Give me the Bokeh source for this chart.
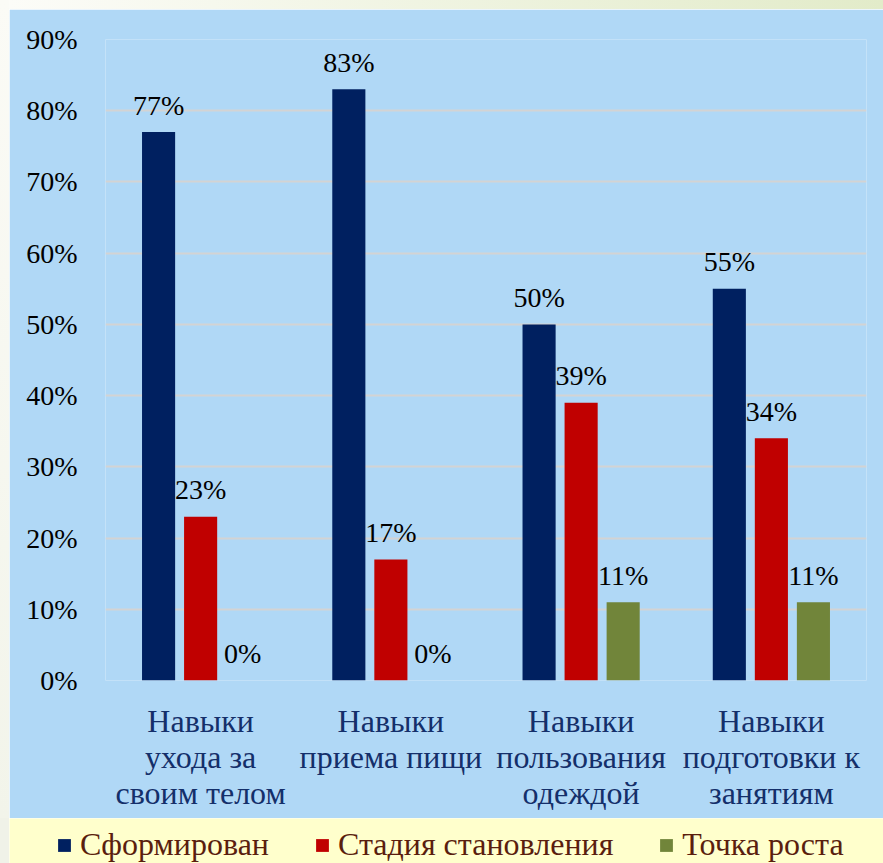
from bokeh.plotting import figure
from bokeh.models import ColumnDataSource, Range1d, FactorRange, Legend, LegendItem, FixedTicker, Spacer
from bokeh.transform import dodge
from bokeh.layouts import column, row
from bokeh.core.properties import value
from bokeh.embed import file_html
from bokeh.resources import INLINE

categories = ["Навыки\nухода за\nсвоим телом", "Навыки\nприема пищи",
              "Навыки\nпользования\nодеждой", "Навыки\nподготовки к\nзанятиям"]
series_names = ["Сформирован", "Стадия становления", "Точка роста"]
formed = [77, 83, 50, 55]
forming = [23, 17, 39, 34]
growth = [0, 0, 11, 11]
y_ticks = [0, 10, 20, 30, 40, 50, 60, 70, 80, 90]
colors = ["#002060", "#C00000", "#71853A"]

FONT = "'Liberation Serif', 'Times New Roman', serif"
BG = "#B0D8F6"

src = ColumnDataSource(dict(
    cat=categories, formed=formed, forming=forming, growth=growth,
    formed_lbl=[f"{v}%" for v in formed],
    forming_lbl=[f"{v}%" for v in forming],
    growth_lbl=[f"{v}%" for v in growth],
))

p = figure(width=874, height=809, x_range=FactorRange(*categories, range_padding=0),
           y_range=Range1d(0, 90), toolbar_location=None, output_backend="svg",
           min_border_left=96, min_border_right=17, min_border_top=30, min_border_bottom=138)
p.background_fill_color = BG
p.border_fill_color = BG
p.outline_line_color = None

offsets = [-0.221, 0.0, 0.221]
fields = ["formed", "forming", "growth"]
for off, f, c in zip(offsets, fields, colors):
    p.vbar(x=dodge("cat", off, range=p.x_range), top=f, width=0.174, source=src,
           fill_color=c, line_color=None)
    p.text(x=dodge("cat", off, range=p.x_range), y=f, text=f + "_lbl", source=src,
           text_align="center", text_baseline="middle", y_offset=-27,
           text_font=value(FONT), text_font_size="28px", text_color="#000000")

p.xgrid.grid_line_color = None
p.ygrid.grid_line_color = "#D3D3D3"
p.ygrid.grid_line_width = 2
p.yaxis.ticker = FixedTicker(ticks=y_ticks)
p.yaxis.major_label_overrides = {t: f"{t}%" for t in y_ticks}
for ax in (p.xaxis, p.yaxis):
    ax.axis_line_color = None
    ax.major_tick_line_color = None
    ax.minor_tick_line_color = None
    ax.major_tick_out = 0
    ax.major_tick_in = 0
    ax.major_label_text_font = FONT
p.yaxis.major_label_text_font_size = "28px"
p.yaxis.major_label_text_color = "#000000"
p.yaxis.major_label_standoff = 28
p.xaxis.major_label_text_font_size = "32px"
p.xaxis.major_label_text_color = "#142F6A"
p.xaxis.major_label_text_line_height = 1.0
p.xaxis.major_label_standoff = 22

lf = figure(width=874, height=45, x_range=Range1d(0, 1), y_range=Range1d(0, 1),
            x_axis_location=None, y_axis_location=None,
            toolbar_location=None, output_backend="svg",
            min_border=0, min_border_left=0, min_border_right=0,
            min_border_top=0, min_border_bottom=0)
lf.background_fill_color = "#FFFFCC"
lf.border_fill_color = "#FFFFCC"
lf.outline_line_color = None
lf.grid.visible = False
items = []
for name, c in zip(series_names, colors):
    r = lf.rect(x=[-10], y=[-10], width=1, height=1, fill_color=c, line_color=None)
    items.append(LegendItem(label=name, renderers=[r]))
legend = Legend(items=items, orientation="horizontal", location=(47, 0),
                label_text_font=FONT, label_text_font_size="32px", label_text_color="#5A1E0E",
                glyph_width=16, glyph_height=16, label_standoff=8, spacing=45,
                padding=0, margin=0, border_line_alpha=0, background_fill_alpha=0)
lf.add_layout(legend, "center")

top_strip = Spacer(width=874, height=9,
                   styles={"background": "linear-gradient(90deg, #FCFCF8, #E2EBC9)"})
left_strip = Spacer(width=9, height=818,
                    styles={"background": "linear-gradient(180deg, #FBFBF6, #F2F4EA)"})
left_strip2 = Spacer(width=9, height=45, styles={"background": "#F0F2E8"})

upper = row(left_strip, column(top_strip, p, spacing=0), spacing=0)
lower = row(left_strip2, lf, spacing=0)
layout = column(upper, lower, spacing=0)
open("out.html", "w").write(file_html(layout, INLINE))
